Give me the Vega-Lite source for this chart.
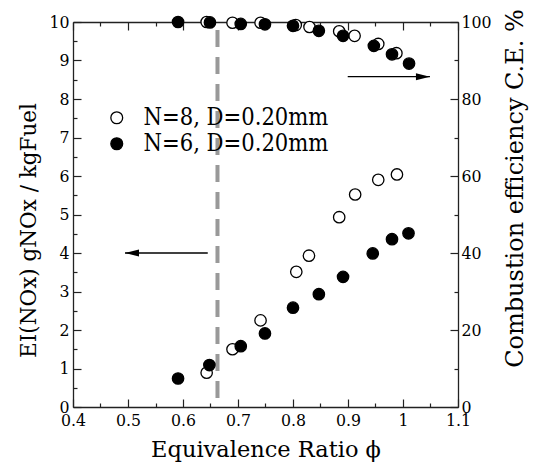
{
  "$schema": "https://vega.github.io/schema/vega-lite/v6.json",
  "width": 385,
  "height": 385,
  "autosize": {"type": "none"},
  "padding": {"left": 73, "top": 22, "right": 80, "bottom": 57},
  "config": {
    "view": {"stroke": null},
    "font": "DejaVu Serif",
    "axis": {
      "grid": false,
      "domainColor": "#222222",
      "domainWidth": 1.3,
      "tickColor": "#222222",
      "tickWidth": 1.2,
      "labelColor": "black",
      "titleColor": "black",
      "labelFont": "DejaVu Serif Condensed",
      "titleFont": "DejaVu Serif",
      "labelFontSize": 17.5,
      "titleFontSize": 22,
      "titleFontWeight": "normal",
      "labelFlush": false
    }
  },
  "datasets": {
    "nox": [
      {"phi": 0.643, "v": 0.89, "series": "N=8, D=0.20mm"},
      {"phi": 0.690, "v": 1.50, "series": "N=8, D=0.20mm"},
      {"phi": 0.741, "v": 2.25, "series": "N=8, D=0.20mm"},
      {"phi": 0.806, "v": 3.51, "series": "N=8, D=0.20mm"},
      {"phi": 0.829, "v": 3.93, "series": "N=8, D=0.20mm"},
      {"phi": 0.884, "v": 4.93, "series": "N=8, D=0.20mm"},
      {"phi": 0.913, "v": 5.52, "series": "N=8, D=0.20mm"},
      {"phi": 0.955, "v": 5.90, "series": "N=8, D=0.20mm"},
      {"phi": 0.989, "v": 6.04, "series": "N=8, D=0.20mm"},
      {"phi": 0.591, "v": 0.74, "series": "N=6, D=0.20mm"},
      {"phi": 0.648, "v": 1.09, "series": "N=6, D=0.20mm"},
      {"phi": 0.705, "v": 1.58, "series": "N=6, D=0.20mm"},
      {"phi": 0.749, "v": 1.91, "series": "N=6, D=0.20mm"},
      {"phi": 0.800, "v": 2.58, "series": "N=6, D=0.20mm"},
      {"phi": 0.847, "v": 2.93, "series": "N=6, D=0.20mm"},
      {"phi": 0.891, "v": 3.38, "series": "N=6, D=0.20mm"},
      {"phi": 0.945, "v": 3.99, "series": "N=6, D=0.20mm"},
      {"phi": 0.980, "v": 4.36, "series": "N=6, D=0.20mm"},
      {"phi": 1.010, "v": 4.51, "series": "N=6, D=0.20mm"}
    ],
    "ce": [
      {"phi": 0.643, "v": 100.0, "series": "N=8, D=0.20mm"},
      {"phi": 0.690, "v": 99.8, "series": "N=8, D=0.20mm"},
      {"phi": 0.741, "v": 99.8, "series": "N=8, D=0.20mm"},
      {"phi": 0.805, "v": 99.2, "series": "N=8, D=0.20mm"},
      {"phi": 0.830, "v": 98.7, "series": "N=8, D=0.20mm"},
      {"phi": 0.884, "v": 97.6, "series": "N=8, D=0.20mm"},
      {"phi": 0.912, "v": 96.4, "series": "N=8, D=0.20mm"},
      {"phi": 0.955, "v": 94.3, "series": "N=8, D=0.20mm"},
      {"phi": 0.988, "v": 91.9, "series": "N=8, D=0.20mm"},
      {"phi": 0.591, "v": 100.0, "series": "N=6, D=0.20mm"},
      {"phi": 0.649, "v": 99.9, "series": "N=6, D=0.20mm"},
      {"phi": 0.705, "v": 99.5, "series": "N=6, D=0.20mm"},
      {"phi": 0.749, "v": 99.4, "series": "N=6, D=0.20mm"},
      {"phi": 0.800, "v": 99.0, "series": "N=6, D=0.20mm"},
      {"phi": 0.847, "v": 97.7, "series": "N=6, D=0.20mm"},
      {"phi": 0.891, "v": 96.4, "series": "N=6, D=0.20mm"},
      {"phi": 0.947, "v": 93.8, "series": "N=6, D=0.20mm"},
      {"phi": 0.980, "v": 91.6, "series": "N=6, D=0.20mm"},
      {"phi": 1.011, "v": 89.2, "series": "N=6, D=0.20mm"}
    ],
    "limit": [{"phi": 0.6627, "v": 0, "v2": 10}],
    "arrowLeftLine": [{"phi": 0.645, "phi2": 0.4945, "v": 4.0}],
    "arrowLeftHead": [{"phi": 0.4945, "v": 4.0}],
    "arrowRightLine": [{"phi": 0.8995, "phi2": 1.049, "v": 85.8}],
    "arrowRightHead": [{"phi": 1.049, "v": 85.8}]
  },
  "layer": [
    {
      "encoding": {
        "x": {
          "field": "phi", "type": "quantitative",
          "scale": {"domain": [0.4, 1.1], "nice": false, "zero": false},
          "axis": {
            "orient": "bottom",
            "title": "Equivalence Ratio  ϕ",
            "titleFont": "DejaVu Serif",
            "titleFontSize": 22.5,
            "labelFont": "DejaVu Serif Condensed",
            "values": [0.4, 0.45, 0.5, 0.55, 0.6, 0.65, 0.7, 0.75, 0.8, 0.85, 0.9, 0.95, 1.0, 1.05, 1.1],
            "labelExpr": "abs(datum.value*10 - round(datum.value*10)) < 0.001 ? format(datum.value, '.1~f') : ''",
            "tickSize": {"condition": {"test": "abs(datum.value*10 - round(datum.value*10)) < 0.001", "value": -8}, "value": -4},
            "labelPadding": 12,
            "labelOverlap": false,
            "titlePadding": 6
          }
        },
        "y": {
          "field": "v", "type": "quantitative",
          "scale": {"domain": [0, 10], "nice": false},
          "axis": {
            "orient": "left",
            "title": "EI(NOx) gNOx / kgFuel",
            "titleFont": "DejaVu Serif",
            "titleFontSize": 21.5,
            "titleY": 208,
            "labelFont": "DejaVu Serif Condensed",
            "values": [0, 0.5, 1, 1.5, 2, 2.5, 3, 3.5, 4, 4.5, 5, 5.5, 6, 6.5, 7, 7.5, 8, 8.5, 9, 9.5, 10],
            "labelExpr": "round(datum.value) == datum.value ? '' + datum.value : ''",
            "tickSize": {"condition": {"test": "round(datum.value) == datum.value", "value": -8}, "value": -4},
            "labelPadding": 12,
            "labelOverlap": false,
            "titlePadding": 8
          }
        }
      },
      "layer": [
        {
          "data": {"name": "limit"},
          "mark": {"type": "rule", "color": "#999999", "strokeWidth": 4, "strokeDash": [17, 10], "strokeDashOffset": 18},
          "encoding": {
            "y2": {"field": "v2"}
          }
        },
        {
          "data": {"name": "arrowLeftLine"},
          "mark": {"type": "rule", "color": "black", "strokeWidth": 1.3},
          "encoding": {
            "x2": {"field": "phi2"}
          }
        },
        {
          "data": {"name": "arrowLeftHead"},
          "mark": {"type": "point", "shape": "M0,0L2,-0.5L2,0.5Z", "filled": true, "color": "black", "size": 196, "opacity": 1},
          "encoding": {}
        },
        {
          "data": {"name": "nox"},
          "mark": {"type": "point", "shape": "circle", "filled": true, "stroke": "black", "strokeWidth": 1.3, "size": 130, "opacity": 1},
          "encoding": {
            "fill": {
              "field": "series", "type": "nominal",
              "scale": {"domain": ["N=8, D=0.20mm", "N=6, D=0.20mm"], "range": ["white", "black"]},
              "legend": {
                "title": null,
                "orient": "none",
                "legendX": 32,
                "legendY": 84,
                "padding": 0,
                "symbolType": "circle",
                "symbolSize": 140,
                "symbolStrokeColor": "black",
                "symbolStrokeWidth": 1.3,
                "symbolOpacity": 1,
                "labelFontSize": 23.5,
                "labelFont": "DejaVu Serif Condensed",
                "labelColor": "black",
                "labelLimit": 400,
                "labelOffset": 15,
                "rowPadding": 1
              }
            }
          }
        }
      ]
    },
    {
      "encoding": {
        "x": {
          "field": "phi", "type": "quantitative",
          "scale": {"domain": [0.4, 1.1], "nice": false, "zero": false},
          "axis": {
            "orient": "top",
            "title": null,
            "labels": false,
            "values": [0.4, 0.45, 0.5, 0.55, 0.6, 0.65, 0.7, 0.75, 0.8, 0.85, 0.9, 0.95, 1.0, 1.05, 1.1],
            "tickSize": {"condition": {"test": "abs(datum.value*10 - round(datum.value*10)) < 0.001", "value": -8}, "value": -4}
          }
        },
        "y": {
          "field": "v", "type": "quantitative",
          "scale": {"domain": [0, 100], "nice": false},
          "axis": {
            "orient": "right",
            "title": "Combustion efficiency C.E. %",
            "titleFont": "DejaVu Serif",
            "titleFontSize": 24,
            "titleAngle": 270,
            "titleY": 166,
            "labelFont": "DejaVu Serif Condensed",
            "values": [0, 10, 20, 30, 40, 50, 60, 70, 80, 90, 100],
            "labelExpr": "datum.value % 20 == 0 ? '' + datum.value : ''",
            "tickSize": {"condition": {"test": "datum.value % 20 == 0", "value": -8}, "value": -4},
            "labelPadding": 11,
            "labelOverlap": false,
            "titlePadding": 36
          }
        }
      },
      "layer": [
        {
          "data": {"name": "arrowRightLine"},
          "mark": {"type": "rule", "color": "black", "strokeWidth": 1.3},
          "encoding": {
            "x2": {"field": "phi2"}
          }
        },
        {
          "data": {"name": "arrowRightHead"},
          "mark": {"type": "point", "shape": "M0,0L-2,-0.5L-2,0.5Z", "filled": true, "color": "black", "size": 196, "opacity": 1},
          "encoding": {}
        },
        {
          "data": {"name": "ce"},
          "mark": {"type": "point", "shape": "circle", "filled": true, "stroke": "black", "strokeWidth": 1.3, "size": 130, "opacity": 1},
          "encoding": {
            "fill": {"field": "series", "type": "nominal"}
          }
        }
      ]
    }
  ],
  "resolve": {
    "scale": {"x": "independent", "y": "independent"},
    "axis": {"x": "independent", "y": "independent"}
  }
}
